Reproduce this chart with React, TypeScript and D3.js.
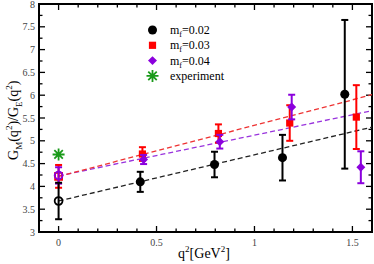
import React, { useEffect, useRef } from "react"
import * as d3 from "d3"

// q^2 positions and G_M/G_E values
const qBlack = [0, 0.417, 0.796, 1.143, 1.461]
const vBlack = [3.68, 4.10, 4.48, 4.63, 6.02]
const eBlack = [0.40, 0.22, 0.28, 0.50, 1.63]

const qRed = [0, 0.428, 0.816, 1.18, 1.52]
const vRed = [4.22, 4.71, 5.16, 5.39, 5.52]
const eRed = [0.25, 0.15, 0.2, 0.39, 0.70]

const qPurple = [0, 0.434, 0.823, 1.19, 1.543]
const vPurple = [4.24, 4.59, 4.98, 5.74, 4.42]
const ePurple = [0.18, 0.1, 0.15, 0.27, 0.35]

const qExp = [0]
const vExp = [4.70]

// linear fits, evaluated at the two ends
const fitQ = [0, 1.6]
const fitBlack = [3.68, 5.30]
const fitRed = [4.22, 6.01]
const fitPurple = [4.23, 5.66]

const legendLabels = ["0.02", "0.03", "0.04", "experiment"]

const xTicks = [0, 0.5, 1, 1.5]
const yTicks = [3, 3.5, 4, 4.5, 5, 5.5, 6, 6.5, 7, 7.5, 8]

// 8-armed star like the xmgrace "star" symbol
const starPath = (r: number) => {
  const p = d3.path()
  for (let k = 0; k < 4; k++) {
    const a = (k * Math.PI) / 4
    p.moveTo(-r * Math.cos(a), -r * Math.sin(a))
    p.lineTo(r * Math.cos(a), r * Math.sin(a))
  }
  return p.toString()
}

const App = () => {
  const ref = useRef<SVGSVGElement>(null)

  useEffect(() => {
    const svg = d3.select(ref.current)
    svg.selectAll("*").remove()
    const W = 374, H = 264
    const m = { l: 39, r: 2, t: 4, b: 32 }
    const x = d3.scaleLinear().domain([-0.1, 1.6]).range([m.l, W - m.r])
    const y = d3.scaleLinear().domain([3, 8]).range([H - m.b, m.t])
    const font = "'Liberation Serif', 'Times New Roman', serif"

    svg.append("rect").attr("width", W).attr("height", H).attr("fill", "white")

    // ticks, inward on all four sides
    const ax = svg.append("g").attr("stroke", "black").attr("stroke-width", 1.3)
    const xMinor = d3.range(-0.1, 1.601, 0.1).map(v => +v.toFixed(2))
    xMinor.forEach(v => {
      const major = xTicks.includes(v)
      const len = major ? 6 : 3.5
      ax.append("line").attr("x1", x(v)).attr("x2", x(v)).attr("y1", y(3)).attr("y2", y(3) - len)
      ax.append("line").attr("x1", x(v)).attr("x2", x(v)).attr("y1", y(8)).attr("y2", y(8) + len)
    })
    const yMinor = d3.range(3, 8.001, 0.25).map(v => +v.toFixed(2))
    yMinor.forEach(v => {
      const major = yTicks.includes(v)
      const len = major ? 6 : 3.5
      ax.append("line").attr("x1", x(-0.1)).attr("x2", x(-0.1) + len).attr("y1", y(v)).attr("y2", y(v))
      ax.append("line").attr("x1", x(1.6)).attr("x2", x(1.6) - len).attr("y1", y(v)).attr("y2", y(v))
    })
    svg.append("rect")
      .attr("x", x(-0.1)).attr("y", y(8))
      .attr("width", x(1.6) - x(-0.1)).attr("height", y(3) - y(8))
      .attr("fill", "none").attr("stroke", "black").attr("stroke-width", 2)

    svg.append("g").selectAll("text").data(xTicks).enter().append("text")
      .attr("x", d => x(d)).attr("y", y(3) + 14)
      .attr("text-anchor", "middle").attr("font-family", font).attr("font-size", 10).attr("fill", "#444")
      .text(d => d)
    svg.append("g").selectAll("text").data(yTicks).enter().append("text")
      .attr("x", x(-0.1) - 4).attr("y", d => y(d) + 3.5)
      .attr("text-anchor", "end").attr("font-family", font).attr("font-size", 10).attr("fill", "#444")
      .text(d => d)

    // axis titles
    const xt = svg.append("text").attr("x", 204).attr("y", 258)
      .attr("text-anchor", "middle").attr("font-family", font).attr("font-size", 14)
    xt.append("tspan").text("q")
    xt.append("tspan").attr("dy", -6).attr("font-size", 9).text("2")
    xt.append("tspan").attr("dy", 6).text("[GeV")
    xt.append("tspan").attr("dy", -6).attr("font-size", 9).text("2")
    xt.append("tspan").attr("dy", 6).text("]")

    const yt = svg.append("text").attr("transform", `translate(18,${y(5.45)}) rotate(-90)`)
      .attr("text-anchor", "middle").attr("font-family", font).attr("font-size", 14)
    yt.append("tspan").text("G")
    yt.append("tspan").attr("dy", 4).attr("font-size", 9).text("M")
    yt.append("tspan").attr("dy", -4).text("(q")
    yt.append("tspan").attr("dy", -6).attr("font-size", 9).text("2")
    yt.append("tspan").attr("dy", 6).text(")/G")
    yt.append("tspan").attr("dy", 4).attr("font-size", 9).text("E")
    yt.append("tspan").attr("dy", -4).text("(q")
    yt.append("tspan").attr("dy", -6).attr("font-size", 9).text("2")
    yt.append("tspan").attr("dy", 6).text(")")

    // fits
    const line = d3.line<number>().x((d, i) => x(fitQ[i])).y(d => y(d))
    const fits: [number[], string][] = [[fitBlack, "#222"], [fitPurple, "#9933dd"], [fitRed, "#ee3333"]]
    fits.forEach(([f, c]) => {
      svg.append("path").attr("d", line(f)).attr("fill", "none")
        .attr("stroke", c).attr("stroke-width", 1.3).attr("stroke-dasharray", "5,3")
    })

    const series = [
      { q: qBlack, v: vBlack, e: eBlack, c: "black", shape: d3.symbolCircle, size: 64, rot: 0 },
      { q: qRed, v: vRed, e: eRed, c: "#ff0000", shape: d3.symbolSquare, size: 52, rot: 0 },
      { q: qPurple, v: vPurple, e: ePurple, c: "#8b00dd", shape: d3.symbolSquare, size: 40, rot: 45 },
    ]
    const drawSeries = (s: typeof series[0]) => {
      const g = svg.append("g")
      s.q.forEach((q, i) => {
        const lo = y(s.v[i] - s.e[i]), hi = y(s.v[i] + s.e[i])
        g.append("line").attr("x1", x(q)).attr("x2", x(q)).attr("y1", lo).attr("y2", hi)
          .attr("stroke", s.c).attr("stroke-width", 2)
        ;[lo, hi].forEach(yy => g.append("line").attr("x1", x(q) - 3.5).attr("x2", x(q) + 3.5)
          .attr("y1", yy).attr("y2", yy).attr("stroke", s.c).attr("stroke-width", 2))
        const open = q === 0
        const shape = open && s.rot ? d3.symbolCircle : s.shape
        g.append("path").attr("d", d3.symbol(shape, open ? 48 : s.size)())
          .attr("transform", `translate(${x(q)},${y(s.v[i])}) rotate(${open ? 0 : s.rot})`)
          .attr("fill", open ? "none" : s.c).attr("stroke", s.c).attr("stroke-width", open ? 1.8 : 0)
      })
    }
    drawSeries(series[1])
    drawSeries(series[2])
    drawSeries(series[0])

    qExp.forEach((q, i) => {
      svg.append("path").attr("d", starPath(6)).attr("transform", `translate(${x(q)},${y(vExp[i])})`)
        .attr("fill", "none").attr("stroke", "#1a9a1a").attr("stroke-width", 1.8)
    })

    // legend
    const lg = svg.append("g").attr("font-family", font).attr("font-size", 12)
    legendLabels.forEach((lab, i) => {
      const yy = 30 + i * 15.3
      if (i < 3) {
        const s = series[i]
        lg.append("path").attr("d", d3.symbol(s.shape, s.size)())
          .attr("transform", `translate(152.5,${yy}) rotate(${s.rot})`).attr("fill", s.c)
        const t = lg.append("text").attr("x", 170).attr("y", yy + 4)
        t.append("tspan").text("m")
        t.append("tspan").attr("dy", 3).attr("font-size", 8).text("f")
        t.append("tspan").attr("dy", -3).text("=" + lab)
      } else {
        lg.append("path").attr("d", starPath(6))
          .attr("transform", `translate(152.5,${yy})`).attr("fill", "none")
          .attr("stroke", "#1a9a1a").attr("stroke-width", 1.8)
        lg.append("text").attr("x", 170).attr("y", yy + 4).text(lab)
      }
    })
  }, [])

  return <svg ref={ref} width={374} height={264} style={{ display: "block", position: "absolute", left: 0, top: 0 }} />
}

export default App
